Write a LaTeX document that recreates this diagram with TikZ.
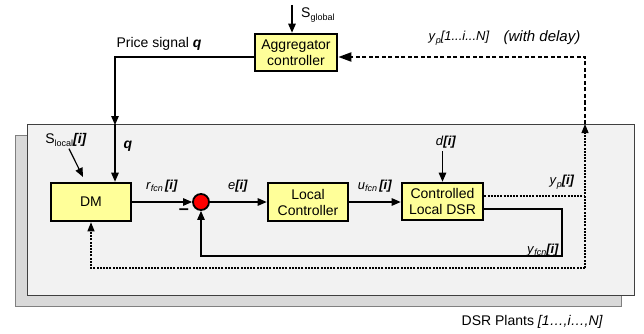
\documentclass[tikz,border=0pt]{standalone}
\usepackage{fontspec}
\setmainfont{Liberation Sans}
\usetikzlibrary{arrows.meta}
\definecolor{boxyellow}{RGB}{255,255,153}
\definecolor{panelfront}{RGB}{242,242,242}
\definecolor{panelback}{RGB}{217,217,217}
\newcommand\lsub[1]{\raisebox{-2.5pt}{\fontsize{9}{10}\selectfont #1}}
\newcommand\bi[1]{\textbf{\textit{#1}}}
\tikzset{
  blk/.style={draw=black, line width=2.6pt, fill=boxyellow, align=center,
    font=\fontsize{14}{16}\selectfont, inner sep=0pt},
  lbl/.style={font=\fontsize{13}{15}\selectfont, inner sep=0pt},
  arr/.style={-{Triangle[length=9pt,width=7.5pt]}, line width=1.2pt},
  dotln/.style={line width=1.2pt, dash pattern=on 2pt off 1.2pt},
  dashln/.style={line width=2pt, dash pattern=on 4pt off 2.5pt},
}
\begin{document}
\begin{tikzpicture}[x=1pt,y=-1pt]
\useasboundingbox (0,0) rectangle (644,334);
% panels
\path[fill=panelback, draw=gray, line width=1pt] (15,135) rectangle (621,306);
\path[fill=panelfront, draw=black!75, line width=1pt] (27,124) rectangle (634,295);

% blocks
\node[blk, minimum width=82pt, minimum height=37pt] (agg) at (296,52.5) {Aggregator\\controller};
\node[blk, minimum width=80pt, minimum height=38pt] (dm) at (91,202) {DM};
\node[blk, minimum width=80pt, minimum height=38pt] (lc) at (308,202) {Local\\Controller};
\node[blk, minimum width=81pt, minimum height=37pt] (cl) at (442.5,201.5) {Controlled\\Local DSR};
\node[circle, draw=black, line width=1.8pt, fill=red, minimum size=16pt, inner sep=0pt] (sum) at (201,202) {};

% coordinates
\coordinate (sg) at (292,5);
\coordinate (qin) at (115,124);
\coordinate (sltip) at (83,177);
\coordinate (ypr) at (585,196);
\coordinate (ypb) at (585,268);
\coordinate (yptop) at (585,124);
\coordinate (yfc) at (562,256);

% labels
\node[anchor=west, inner sep=0pt, font=\fontsize{14}{16}\selectfont] (sglab) at (301,15) {S\lsub{global}};
\node[inner sep=0pt, font=\fontsize{14}{16}\selectfont] (plab) at (159,44) {Price signal \bi{q}};
\node[inner sep=0pt, font=\fontsize{14}{16}\selectfont] (qlab) at (128,146) {\bi{q}};
\node[lbl, font=\fontsize{14}{16}\selectfont] (slocal) at (66,140) {S\lsub{local}\bi{[i]}};
\node[lbl] (rlab) at (162,186) {\textit{r}\lsub{\textit{fcn}}\,\bi{[i]}};
\node[inner sep=0pt, font=\bfseries\fontsize{18}{20}\selectfont] (minus) at (184,212) {–};
\node[lbl] (elab) at (238,186) {\textit{e}\bi{[i]}};
\node[lbl] (ulab) at (375,186) {\textit{u}\lsub{\textit{fcn}}\,\bi{[i]}};
\node[lbl] (dlab) at (446,142) {\textit{d}\bi{[i]}};
\node[lbl] (yplab) at (562,182) {\textit{y}\lsub{\textit{p}}\bi{[i]}};
\node[lbl] (yflab) at (543,250) {\textit{y}\lsub{\textit{fcn}}\bi{[i]}};
\node[lbl] (toplab) at (459,38) {\textit{y}\lsub{\textit{p}}\textit{[1...i...N]}};
\node[lbl, font=\fontsize{15}{17}\selectfont] (delay) at (542,38) {\textit{(with delay)}};
\node[anchor=east, inner sep=0pt, font=\fontsize{14}{16}\selectfont] (plants) at (603,322) {DSR Plants \textit{[1…,i…,N]}};

% connectors
\draw[arr] (sg) -- (sg |- agg.north);
\draw[arr, shorten >=-1pt] ([yshift=-4.5pt]agg.west) -| (qin);
\draw[arr] (qin) -- (qin |- dm.north);
\draw[arr] (slocal.south) ++(3pt,-2pt) -- (sltip);
\draw[arr] (dm.east) -- (sum.west);
\draw[arr] (sum.east) -- (sum.east -| lc.west);
\draw[arr] (lc.east) -- (lc.east -| cl.west);
\draw[arr] (dlab.south -| cl.north) ++(0,-3pt) -- (cl.north);
\draw[dotln] ([yshift=5.5pt]cl.east) -- (ypr);
\draw[dotln, -{Triangle[length=9pt,width=7pt]}] (ypb) -- (yptop);
\draw[dotln, -{Triangle[length=9pt,width=7pt]}] (ypb) -| (dm.south);
\draw[dashln, -{Triangle[length=13pt,width=9pt]}] (yptop) |- ([yshift=-4.5pt]agg.east);
\draw[arr] ([yshift=-7.5pt]cl.east) -| (yfc) -| (sum.south);
\end{tikzpicture}
\end{document}
